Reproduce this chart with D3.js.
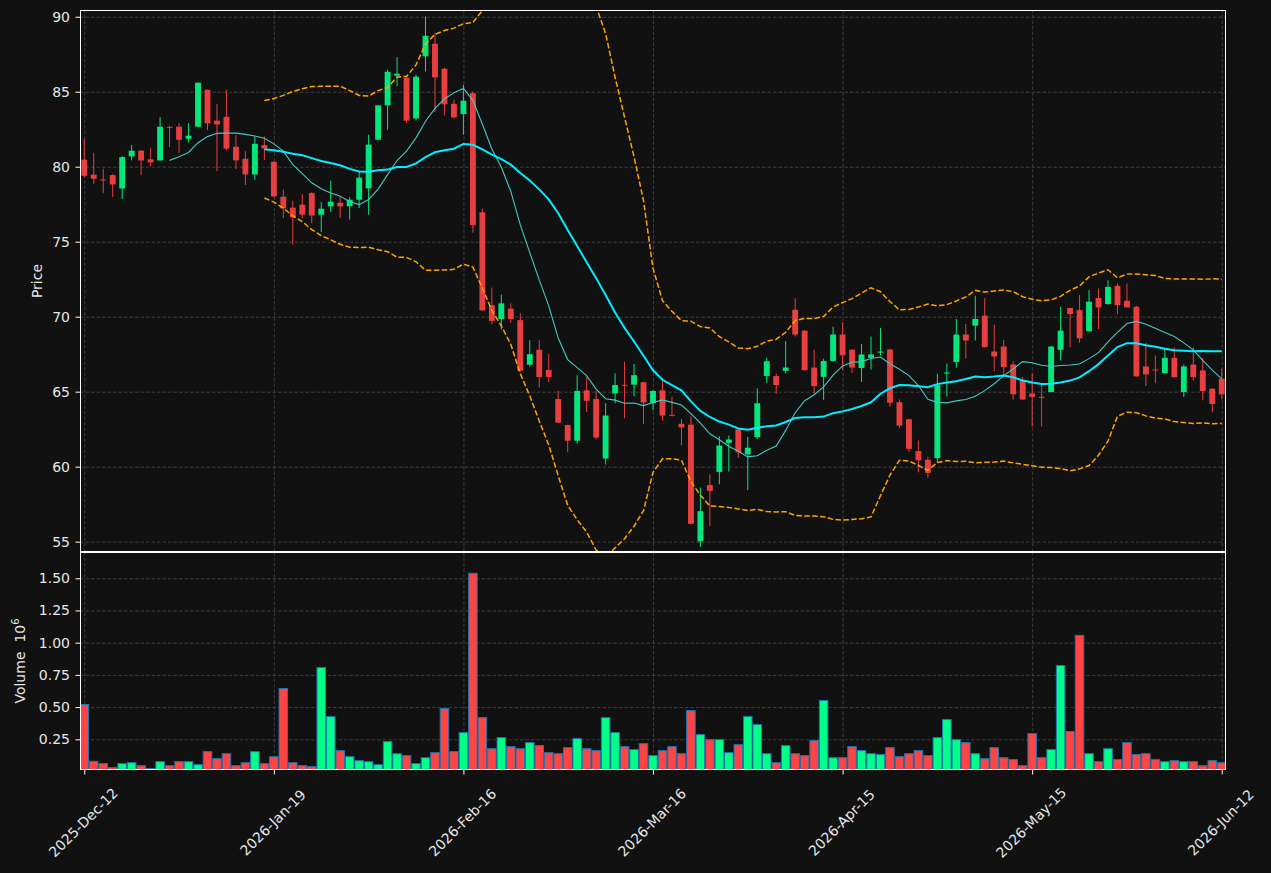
<!DOCTYPE html>
<html>
<head>
<meta charset="utf-8">
<script src="https://cdn.jsdelivr.net/npm/d3@7"></script>
<style>
  body { margin: 0; background: #111111; }
  svg { display: block; font-family: "DejaVu Sans", sans-serif; }
</style>
</head>
<body>
<svg id="chart" width="1271" height="873"></svg>
<script>
// OHLC + volume (volume in millions), one entry per trading day
var opens = [80.47,79.47,79.15,79.44,78.55,80.69,81.07,80.49,80.42,82.66,
  82.67,81.87,82.67,85.13,83.07,83.33,81.33,80.53,79.49,81.44,
  80.33,78.00,77.27,77.47,78.24,76.80,77.36,77.60,77.36,77.80,
  78.56,81.80,84.09,86.07,85.93,83.22,87.36,88.20,86.53,84.20,
  83.51,84.90,76.96,70.77,69.84,70.54,69.77,66.80,67.80,66.45,
  64.51,62.78,61.73,65.09,64.51,60.54,64.88,65.46,65.47,65.63,
  64.23,65.09,63.46,62.86,62.80,55.02,58.77,59.65,61.59,62.47,
  60.82,61.96,66.04,66.04,66.39,70.46,69.07,66.61,65.99,67.05,
  68.81,67.80,66.58,67.26,67.60,67.81,64.30,63.16,61.04,60.46,
  60.57,66.22,66.98,68.81,69.40,70.07,67.68,68.01,66.82,65.72,
  64.88,64.66,64.98,67.79,70.58,70.44,69.03,71.24,70.84,72.06,
  71.06,70.66,66.68,66.48,66.24,67.26,64.98,66.81,66.42,65.20,
  65.86];
var highs = [81.85,80.93,79.87,79.50,80.70,81.45,81.10,81.24,83.31,82.73,
  82.91,82.91,85.62,85.15,84.18,85.13,82.11,81.04,82.02,82.02,
  80.35,78.47,77.73,78.18,78.30,77.64,79.07,78.02,77.96,79.69,
  82.13,84.10,86.47,87.31,86.00,86.13,90.02,88.93,86.60,84.47,
  85.47,85.00,77.20,71.94,71.47,70.89,70.23,68.43,68.43,67.50,
  65.05,62.80,66.10,65.98,65.05,64.23,66.21,66.99,66.85,65.65,
  65.10,65.86,64.67,63.17,63.35,58.61,59.49,62.03,62.07,62.50,
  61.98,65.22,67.27,66.21,68.37,71.23,69.10,67.80,67.20,69.34,
  69.63,67.82,68.19,68.68,69.25,67.86,64.48,63.20,61.74,60.68,
  66.20,66.87,69.85,69.51,71.39,71.24,69.47,68.45,67.04,65.98,
  66.20,65.54,68.05,70.66,70.60,71.44,71.77,71.88,72.43,72.21,
  72.21,70.73,68.25,67.41,67.92,67.96,66.81,67.96,67.26,65.22,
  66.53];
var lows = [79.31,78.85,78.25,77.98,77.85,80.42,79.44,80.02,80.40,81.31,
  80.91,81.62,82.65,82.44,79.71,81.09,79.84,78.78,79.13,80.47,
  77.95,76.58,74.80,76.58,76.24,75.64,76.98,76.58,76.47,77.24,
  76.80,81.78,82.47,85.36,82.91,83.09,86.36,83.64,83.42,83.20,
  82.13,75.60,70.40,69.49,69.14,69.60,66.35,66.68,65.28,65.63,
  62.90,60.96,61.54,63.64,61.82,60.14,64.23,63.22,64.70,62.83,
  63.76,63.06,63.35,61.43,56.15,54.65,56.04,58.83,59.67,60.59,
  58.44,61.85,65.59,64.85,66.21,68.68,66.40,64.89,64.45,66.98,
  66.43,66.25,65.65,66.47,67.42,64.00,62.60,60.97,59.62,59.25,
  60.24,64.66,66.60,67.20,68.41,67.95,66.38,65.98,64.48,64.45,
  62.67,62.67,64.96,67.08,67.96,68.25,69.00,69.18,70.80,70.18,
  70.60,66.00,65.38,65.58,66.20,65.95,64.65,65.75,64.42,63.65,
  64.50];
var closes = [79.40,79.20,79.10,78.82,80.64,81.07,80.42,80.29,82.67,82.62,
  81.80,82.07,85.60,82.89,82.82,81.20,80.42,79.49,81.53,81.22,
  78.02,77.22,76.62,76.80,76.75,77.20,77.67,77.36,77.80,79.27,
  81.47,84.09,86.33,86.20,83.07,86.00,88.73,85.96,84.16,83.29,
  84.40,76.10,70.42,69.72,70.89,69.84,66.40,67.50,65.98,65.98,
  62.94,61.73,65.05,64.39,61.94,63.41,65.44,65.42,66.10,64.28,
  65.05,63.41,63.42,62.62,56.19,57.03,58.39,61.41,61.81,60.97,
  61.26,64.23,67.03,65.44,66.61,68.81,66.43,65.37,67.05,68.81,
  67.42,66.61,67.48,67.48,67.68,64.26,62.74,61.19,60.42,59.58,
  65.43,66.28,68.81,68.41,69.85,67.97,67.35,66.64,64.83,64.48,
  64.66,64.62,68.01,69.07,70.18,68.56,71.00,70.62,71.99,70.77,
  70.62,66.02,66.15,66.44,67.26,65.97,66.68,65.97,65.04,64.18,
  64.82];
var volumes = [0.520,0.079,0.061,0.030,0.061,0.068,0.045,0.022,0.076,0.045,
  0.076,0.076,0.053,0.154,0.100,0.138,0.045,0.068,0.154,0.061,
  0.115,0.644,0.068,0.045,0.037,0.807,0.426,0.162,0.115,0.084,
  0.076,0.053,0.232,0.138,0.123,0.061,0.107,0.146,0.489,0.154,
  0.302,1.539,0.418,0.177,0.263,0.193,0.177,0.224,0.201,0.146,
  0.138,0.185,0.255,0.177,0.162,0.418,0.302,0.193,0.170,0.216,
  0.123,0.162,0.193,0.138,0.473,0.286,0.247,0.247,0.146,0.208,
  0.426,0.364,0.138,0.068,0.201,0.138,0.123,0.240,0.551,0.107,
  0.107,0.193,0.162,0.138,0.131,0.185,0.115,0.138,0.162,0.123,
  0.263,0.403,0.247,0.224,0.138,0.099,0.185,0.107,0.092,0.045,
  0.294,0.107,0.170,0.823,0.310,1.057,0.138,0.076,0.177,0.092,
  0.224,0.131,0.138,0.092,0.076,0.084,0.076,0.076,0.045,0.084,
  0.068];

var tickIndex = [0, 20, 40, 60, 80, 100, 120];
var tickLabels = ["2025-Dec-12","2026-Jan-19","2026-Feb-16","2026-Mar-16","2026-Apr-15","2026-May-15","2026-Jun-12"];
var priceTicks = [55, 60, 65, 70, 75, 80, 85, 90];
var volTicks = [0.25, 0.5, 0.75, 1.0, 1.25, 1.5];

var upColor = "#00ff88", downColor = "#ff4444";

var svg = d3.select("#chart");
var left = 80, right = 1226;
var pTop = 10, pBot = 552, vTop = 552, vBot = 770;

svg.append("rect").attr("width", 1271).attr("height", 873).attr("fill", "#111111");

var n = closes.length;
var x = d3.scaleLinear().domain([-0.45, n - 1 + 0.45]).range([left, right]);
var y = d3.scaleLinear().domain([54.31, 90.45]).range([pBot, pTop]);
var yv = d3.scaleLinear().domain([0.0116, 1.704]).range([vBot, vTop]);
var step = x(1) - x(0);

var defs = svg.append("defs");
defs.append("clipPath").attr("id", "clipP").append("rect")
  .attr("x", left).attr("y", pTop).attr("width", right - left).attr("height", pBot - pTop);
defs.append("clipPath").attr("id", "clipV").append("rect")
  .attr("x", left).attr("y", vTop).attr("width", right - left).attr("height", vBot - vTop);

// grids
function grid(g) {
  g.selectAll(".domain").remove();
  g.selectAll("line").attr("stroke", "#3d3d3d").attr("stroke-dasharray", "3.5,2").attr("stroke-width", 1);
  g.selectAll("text").remove();
}
svg.append("g").attr("transform", "translate(" + left + ",0)")
  .call(d3.axisLeft(y).tickValues(priceTicks).tickSize(-(right - left))).call(grid);
svg.append("g").attr("transform", "translate(" + left + ",0)")
  .call(d3.axisLeft(yv).tickValues(volTicks).tickSize(-(right - left))).call(grid);
svg.append("g").attr("transform", "translate(0," + pBot + ")")
  .call(d3.axisBottom(x).tickValues(tickIndex).tickSize(-(pBot - pTop))).call(grid);
svg.append("g").attr("transform", "translate(0," + vBot + ")")
  .call(d3.axisBottom(x).tickValues(tickIndex).tickSize(-(vBot - vTop))).call(grid);

// candles
var idx = d3.range(n);
var price = svg.append("g").attr("clip-path", "url(#clipP)");
var cand = price.append("g").selectAll("g").data(idx).enter().append("g")
  .attr("opacity", 0.9);
cand.append("line")
  .attr("x1", function(i){ return x(i); }).attr("x2", function(i){ return x(i); })
  .attr("y1", function(i){ return y(highs[i]); }).attr("y2", function(i){ return y(lows[i]); })
  .attr("stroke", function(i){ return closes[i] >= opens[i] ? upColor : downColor; })
  .attr("stroke-width", 1);
cand.append("rect")
  .attr("x", function(i){ return x(i) - step * 0.31; })
  .attr("width", step * 0.62)
  .attr("y", function(i){ return y(Math.max(opens[i], closes[i])); })
  .attr("height", function(i){ return Math.max(1, Math.abs(y(opens[i]) - y(closes[i]))); })
  .attr("fill", function(i){ return closes[i] >= opens[i] ? upColor : downColor; });

// moving averages and bands from closes
function rollMean(win) {
  var out = [];
  for (var i = win - 1; i < n; i++) out.push({i: i, v: d3.mean(closes.slice(i - win + 1, i + 1))});
  return out;
}
var ma10 = rollMean(10), ma20 = rollMean(20);
var upper = [], lower = [];
ma20.forEach(function(d) {
  var w = closes.slice(d.i - 19, d.i + 1);
  var sd = Math.sqrt(d3.mean(w.map(function(c){ return (c - d.v) * (c - d.v); })));
  upper.push({i: d.i, v: d.v + 2 * sd});
  lower.push({i: d.i, v: d.v - 2 * sd});
});
var line = d3.line().x(function(d){ return x(d.i); }).y(function(d){ return y(d.v); });

[upper, lower].forEach(function(b) {
  price.append("path").datum(b).attr("d", line).attr("fill", "none")
    .attr("stroke", "#ffa500").attr("stroke-width", 1.5).attr("stroke-dasharray", "5.5,2.4");
});
price.append("path").datum(ma10).attr("d", line).attr("fill", "none")
  .attr("stroke", "#45c9c2").attr("stroke-width", 1.1);
price.append("path").datum(ma20).attr("d", line).attr("fill", "none")
  .attr("stroke", "#00eeff").attr("stroke-width", 2);

// volume
svg.append("g").attr("clip-path", "url(#clipV)").selectAll("rect").data(idx).enter().append("rect")
  .attr("x", function(i){ return x(i) - step * 0.45; })
  .attr("width", step * 0.9)
  .attr("y", function(i){ return yv(volumes[i]); })
  .attr("height", function(i){ return vBot - yv(volumes[i]) + 2; })
  .attr("fill", function(i){ return closes[i] >= opens[i] ? upColor : downColor; })
  .attr("stroke", "#1f77b4").attr("stroke-width", 1);

// spines
[[pTop, pBot], [vTop, vBot]].forEach(function(p) {
  svg.append("rect").attr("x", left + 0.5).attr("y", p[0] + 0.5)
    .attr("width", right - left - 1).attr("height", p[1] - p[0] - 1)
    .attr("fill", "none").attr("stroke", "#ffffff").attr("stroke-width", 1);
});

// axes
function styleAxis(g) {
  g.selectAll(".domain").remove();
  g.selectAll("line").attr("stroke", "#ffffff");
  g.selectAll("text").attr("fill", "#e6e6e6").attr("font-size", 14).attr("font-family", "DejaVu Sans, sans-serif");
}
svg.append("g").attr("transform", "translate(" + left + ",0)")
  .call(d3.axisLeft(y).tickValues(priceTicks).tickSize(4.5).tickPadding(5.5).tickFormat(d3.format("d")))
  .call(styleAxis);
svg.append("g").attr("transform", "translate(" + left + ",0)")
  .call(d3.axisLeft(yv).tickValues(volTicks).tickSize(4.5).tickPadding(5.5).tickFormat(d3.format(".2f")))
  .call(styleAxis);
var xa = svg.append("g").attr("transform", "translate(0," + vBot + ")")
  .call(d3.axisBottom(x).tickValues(tickIndex).tickSize(4.5).tickFormat(function(d, i){ return tickLabels[i]; }))
  .call(styleAxis);
xa.selectAll("text")
  .attr("text-anchor", "middle").attr("dy", null).attr("y", null)
  .attr("dominant-baseline", "central")
  .attr("transform", "translate(-1.5,52.5) rotate(-45)");

svg.append("text").attr("transform", "translate(42," + ((pTop + pBot) / 2) + ") rotate(-90)")
  .attr("text-anchor", "middle").attr("fill", "#e6e6e6").attr("font-size", 14).text("Price");
var vl = svg.append("text").attr("transform", "translate(25," + ((vTop + vBot) / 2) + ") rotate(-90)")
  .attr("text-anchor", "middle").attr("fill", "#e6e6e6").attr("font-size", 14);
vl.append("tspan").text("Volume\u00a0\u00a010");
vl.append("tspan").attr("dy", -6).attr("font-size", 10).text("6");
</script>
</body>
</html>
